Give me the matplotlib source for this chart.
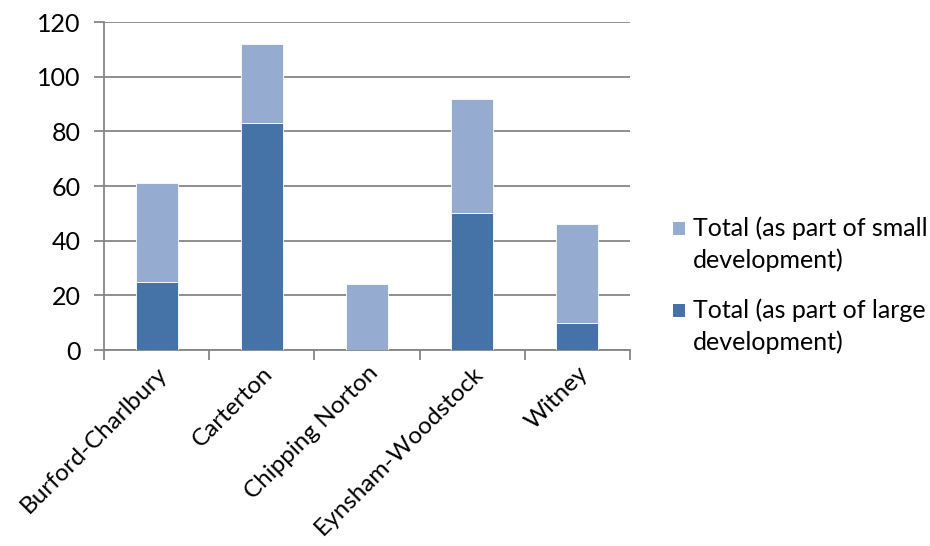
import matplotlib
matplotlib.use("Agg")
import matplotlib.pyplot as plt
import matplotlib.transforms as mtransforms
from matplotlib.patches import Rectangle
import numpy as np

plt.rcParams['font.family'] = ['Lato', 'DejaVu Sans']

categories = ["Burford-Charlbury", "Carterton", "Chipping Norton", "Eynsham-Woodstock", "Witney"]
large = [25, 83, 0, 50, 10]
small = [36, 29, 24, 42, 36]
yticks = [0, 20, 40, 60, 80, 100, 120]
legend_labels = [["Total (as part of small", "development)"],
                 ["Total (as part of large", "development)"]]

c_large = "#4573a7"
c_small = "#96abd0"
grid_c = "#868686"
FS = 18

W, H = 930, 546
fig = plt.figure(figsize=(W/100, H/100), dpi=100)
ax = fig.add_axes([104/W, 1-350/H, (630-104)/W, (350-22)/H])

x = np.arange(len(categories))
b1 = ax.bar(x, large, width=0.4, color=c_large, edgecolor="white", linewidth=0.6, zorder=3)
b2 = ax.bar(x, small, width=0.4, bottom=large, color=c_small, edgecolor="white", linewidth=0.6, zorder=3)

ax.set_xlim(-0.5, len(categories)-0.5)
ax.set_ylim(0, 120)
ax.set_yticks(yticks)
ax.set_yticklabels([str(v) for v in yticks], fontsize=FS)
ax.yaxis.grid(True, color=grid_c, linewidth=1.3, zorder=0)
ax.set_axisbelow(True)

ax.set_xticks(x)
ax.set_xticklabels(categories, rotation=45, ha='right', rotation_mode='anchor', fontsize=17.5)
offset = mtransforms.ScaledTranslation(7/100, 0, fig.dpi_scale_trans)
for lbl in ax.get_xticklabels():
    lbl.set_transform(lbl.get_transform() + offset)
ax.set_xticks(np.arange(-0.5, len(categories)), minor=True)
ax.tick_params(axis='x', which='major', length=0, pad=9)
ax.tick_params(axis='x', which='minor', length=7, color=grid_c, width=1.3)
ax.tick_params(axis='y', length=7, color=grid_c, width=1.3, pad=10)

for s in ['top', 'right']:
    ax.spines[s].set_visible(False)
for s in ['left', 'bottom']:
    ax.spines[s].set_color(grid_c)
    ax.spines[s].set_linewidth(1.3)

# legend, drawn with the square aligned to the first line of each entry
entry_y = [228, 310]
line_gap = 32
for (lines, col, y0) in zip(legend_labels, [c_small, c_large], entry_y):
    fig.patches.append(Rectangle((673/W, 1-(y0+6.5)/H), 12/W, 13/H,
                                 transform=fig.transFigure, facecolor=col, edgecolor='none'))
    for i, ln in enumerate(lines):
        fig.text(693/W, 1-(y0+i*line_gap)/H, ln, fontsize=FS, va='center', ha='left')

fig.savefig("out.png", dpi=100)
